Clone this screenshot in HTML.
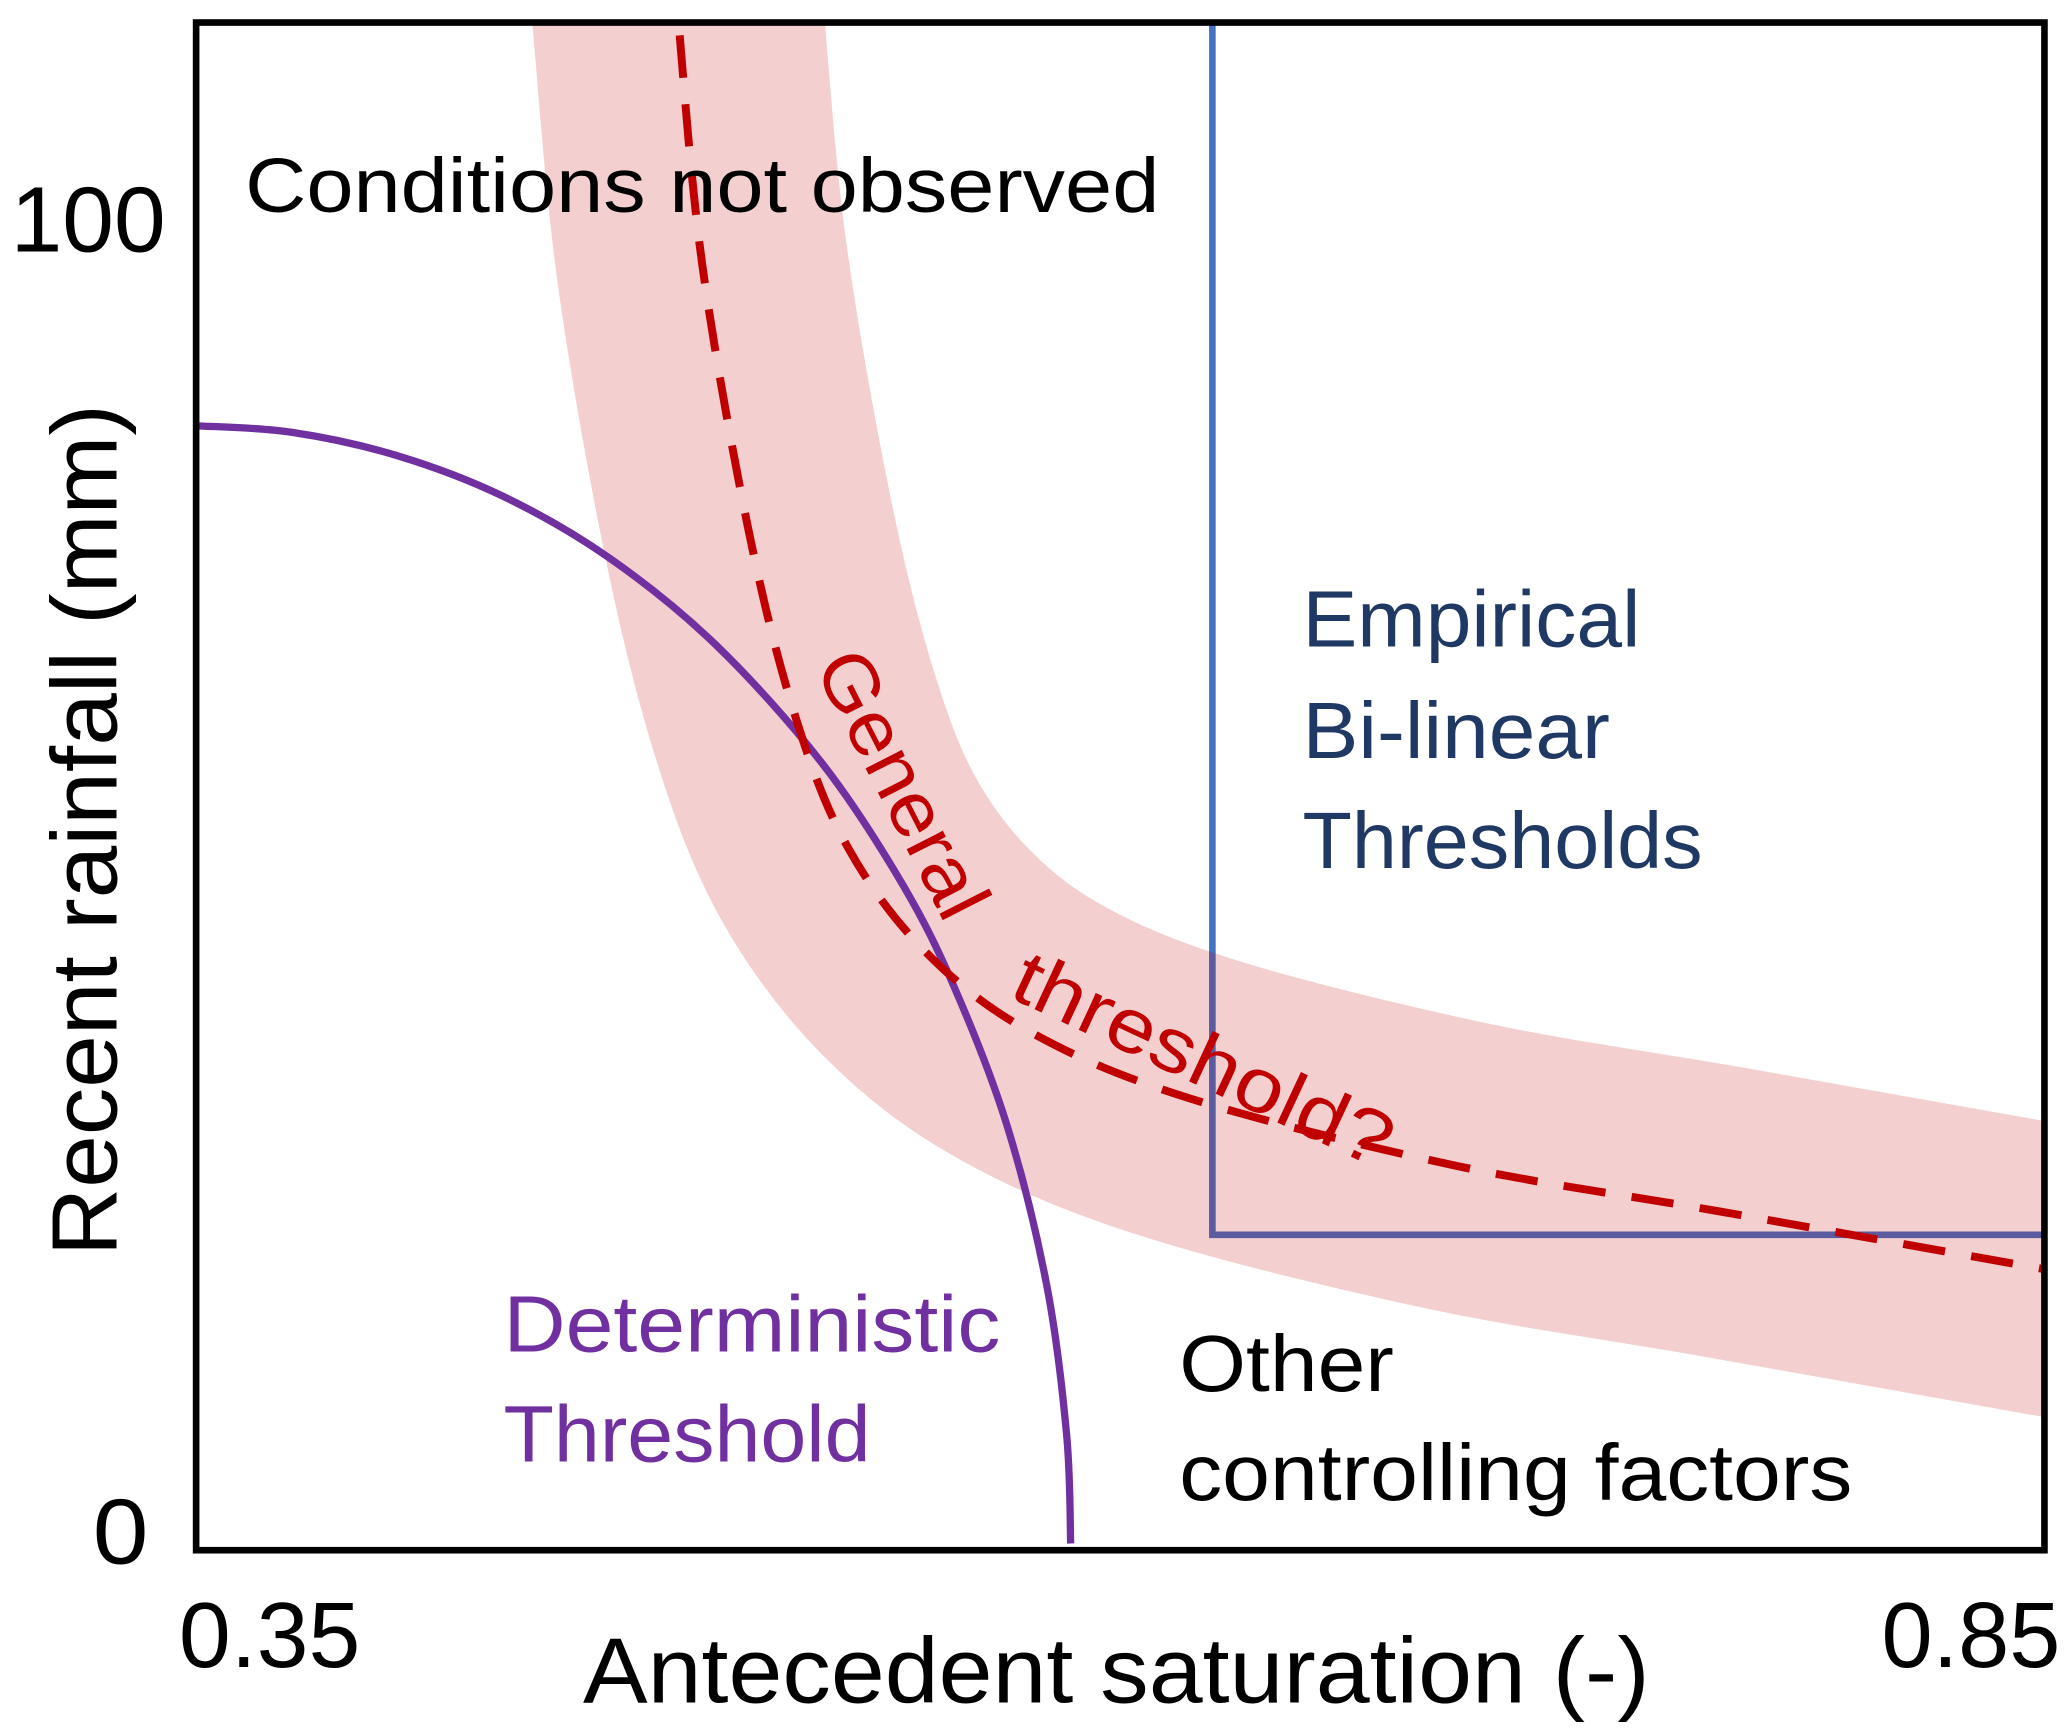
<!DOCTYPE html>
<html><head><meta charset="utf-8"><style>
html,body{margin:0;padding:0;background:#fff;}
svg{display:block;}
text{font-family:"Liberation Sans",sans-serif;}
</style></head><body>
<svg id="chart" width="2067" height="1732" viewBox="0 0 1560 1307.2" xmlns="http://www.w3.org/2000/svg">
<defs><clipPath id="plotClip"><rect x="148" y="17" width="1395" height="1153"/></clipPath></defs>
<g id="plot" clip-path="url(#plotClip)"></g>
<rect x="148" y="17" width="1395" height="1153" fill="none" stroke="#000" stroke-width="5"/>
<text x="8" y="190" font-size="70" textLength="117" lengthAdjust="spacingAndGlyphs">100</text>
<text x="70" y="1180" font-size="70" textLength="42" lengthAdjust="spacingAndGlyphs">0</text>
<text x="135" y="1258" font-size="70" textLength="137" lengthAdjust="spacingAndGlyphs">0.35</text>
<text x="1420" y="1258" font-size="70" textLength="135" lengthAdjust="spacingAndGlyphs">0.85</text>
<text x="440" y="1285" font-size="70" textLength="805" lengthAdjust="spacingAndGlyphs">Antecedent saturation (-)</text>
<text transform="translate(88,948) rotate(-90)" font-size="70" textLength="643" lengthAdjust="spacingAndGlyphs">Recent rainfall (mm)</text>
<text x="185" y="160" font-size="58" textLength="690" lengthAdjust="spacingAndGlyphs">Conditions not observed</text>
<g fill="#203864" font-size="60">
<text x="983" y="488" textLength="255" lengthAdjust="spacingAndGlyphs">Empirical</text>
<text x="983" y="572" textLength="232" lengthAdjust="spacingAndGlyphs">Bi-linear</text>
<text x="983" y="655" textLength="302" lengthAdjust="spacingAndGlyphs">Thresholds</text>
</g>
<g fill="#7030a0" font-size="60">
<text x="380" y="1020" textLength="375" lengthAdjust="spacingAndGlyphs">Deterministic</text>
<text x="380" y="1103" textLength="277" lengthAdjust="spacingAndGlyphs">Threshold</text>
</g>
<g fill="#000" font-size="60">
<text x="890" y="1050" textLength="162" lengthAdjust="spacingAndGlyphs">Other</text>
<text x="890" y="1132" textLength="508" lengthAdjust="spacingAndGlyphs">controlling factors</text>
</g>
<text fill="#c00000" font-size="58" transform="translate(614,503) rotate(63)" textLength="219" lengthAdjust="spacingAndGlyphs">General</text>
<text fill="#c00000" font-size="58" transform="translate(760,752) rotate(25)" textLength="309" lengthAdjust="spacingAndGlyphs">threshold?</text>
</svg>
<script>
const detX = [0.35,0.3759,0.4048,0.4335,0.4623,0.4911,0.5199,0.5415,0.5559,0.5703,0.5811,0.5865,0.5876];
const detY = [84.5,84.0,82.2,79.1,74.4,67.8,58.8,49.7,41.7,31.1,18.9,7.5,-0.8];
const genX = [0.4770,0.4810,0.4875,0.5001,0.5127,0.5271,0.5487,0.5775,0.6207,0.6927,0.7647,0.8529,0.8700];
const genY = [130.0,115.5,96.8,76.5,62.4,52.3,44.2,38.1,33.1,28.0,24.5,20.1,19.3];
const empX = 0.6261;
const empY = 22.75;
const xDomain = [0.35, 0.85];
const yDomain = [0, 100];

function sx(v){ return 148 + (v - xDomain[0]) / (xDomain[1] - xDomain[0]) * 1389; }
function sy(v){ return 1157 - (v - yDomain[0]) / (yDomain[1] - yDomain[0]) * 989; }
function smooth(xs, ys){
  const p = xs.map((x,i)=>[sx(x), sy(ys[i])]);
  let d = 'M' + p[0][0] + ',' + p[0][1];
  for (let i=0;i<p.length-1;i++){
    const p0=p[Math.max(0,i-1)], p1=p[i], p2=p[i+1], p3=p[Math.min(p.length-1,i+2)];
    const c1=[p1[0]+(p2[0]-p0[0])/6, p1[1]+(p2[1]-p0[1])/6];
    const c2=[p2[0]-(p3[0]-p1[0])/6, p2[1]-(p3[1]-p1[1])/6];
    d += 'C'+c1[0]+','+c1[1]+' '+c2[0]+','+c2[1]+' '+p2[0]+','+p2[1];
  }
  return d;
}
const NS='http://www.w3.org/2000/svg';
const plot=document.getElementById('plot');
function mk(tag, attrs){ const e=document.createElementNS(NS,tag); for(const k in attrs) e.setAttribute(k, attrs[k]); plot.appendChild(e); return e; }

const emp = mk('path', {d:'M'+sx(empX)+','+0+' L'+sx(empX)+','+sy(empY)+' L'+1600+','+sy(empY), fill:'none', stroke:'#4472c4', 'stroke-width':5});



const band = mk('path', {d:smooth(genX, genY), fill:'none', stroke:'rgba(192,0,0,0.19)', 'stroke-width':220, 'stroke-linejoin':'round'});



const det = mk('path', {d:smooth(detX, detY), fill:'none', stroke:'#7030a0', 'stroke-width':5.5});



const gen = mk('path', {d:smooth(genX, genY), fill:'none', stroke:'#c00000', 'stroke-width':6, 'stroke-dasharray':'32 20'});


</script>
</body></html>
